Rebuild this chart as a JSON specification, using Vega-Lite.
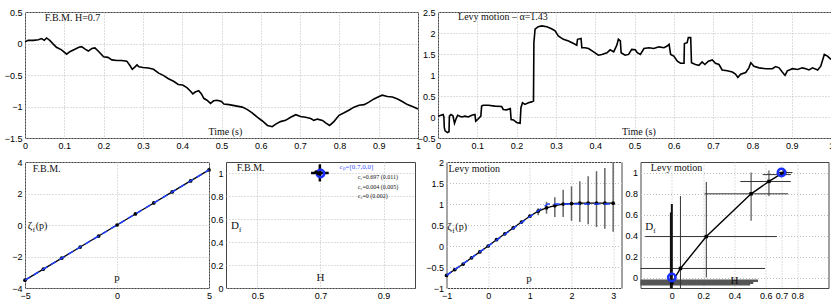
{
"$schema":"https://vega.github.io/schema/vega-lite/v6.json",
"padding":{"left":0,"top":7,"right":2,"bottom":2},
"background":"white",
"spacing":6,
"config":{
 "view":{"stroke":"#444","strokeWidth":1},
 "axis":{"labelFont":"Liberation Sans","labelFontSize":9,"labelColor":"#000","domain":false,"ticks":false,"labelPadding":3,"grid":true,"gridColor":"#bdbdbd","gridDash":[1,2],"labelFlush":false,"labelOverlap":false},
 "text":{"font":"Liberation Serif","fontSize":10,"color":"#111","align":"left","baseline":"middle"},
 "line":{"clip":true},
 "rule":{"clip":true}
},
"vconcat":[
{"hconcat":[
 {"width":393,"height":126,
  "encoding":{
   "x":{"field":"x","type":"quantitative","scale":{"domain":[0,1],"nice":false},"axis":{"values":[0,0.1,0.2,0.3,0.4,0.5,0.6,0.7,0.8,0.9,1],"format":"~g","title":null}},
   "y":{"field":"y","type":"quantitative","scale":{"domain":[-1.5,0.5],"nice":false,"zero":false},"axis":{"values":[-1.5,-1,-0.5,0,0.5],"format":"~g","title":null,"minExtent":21,"maxExtent":21}}},
  "layer":[
   {"data":{"values":[{"x":0,"y":0.026},{"x":0.008,"y":0.05},{"x":0.021,"y":0.05},{"x":0.034,"y":0.06},{"x":0.042,"y":0.078},{"x":0.049,"y":0.05},{"x":0.055,"y":0.088},{"x":0.063,"y":0.05},{"x":0.072,"y":-0.01},{"x":0.08,"y":-0.06},{"x":0.093,"y":-0.1},{"x":0.106,"y":-0.17},{"x":0.114,"y":-0.13},{"x":0.127,"y":-0.09},{"x":0.137,"y":-0.06},{"x":0.144,"y":-0.05},{"x":0.153,"y":-0.09},{"x":0.161,"y":-0.12},{"x":0.17,"y":-0.08},{"x":0.178,"y":-0.07},{"x":0.188,"y":-0.13},{"x":0.2,"y":-0.21},{"x":0.211,"y":-0.22},{"x":0.221,"y":-0.26},{"x":0.234,"y":-0.27},{"x":0.246,"y":-0.27},{"x":0.259,"y":-0.28},{"x":0.267,"y":-0.35},{"x":0.273,"y":-0.41},{"x":0.28,"y":-0.37},{"x":0.285,"y":-0.34},{"x":0.29,"y":-0.37},{"x":0.3,"y":-0.38},{"x":0.314,"y":-0.39},{"x":0.327,"y":-0.41},{"x":0.34,"y":-0.47},{"x":0.353,"y":-0.51},{"x":0.365,"y":-0.56},{"x":0.378,"y":-0.6},{"x":0.39,"y":-0.65},{"x":0.401,"y":-0.66},{"x":0.412,"y":-0.7},{"x":0.42,"y":-0.75},{"x":0.427,"y":-0.8},{"x":0.433,"y":-0.77},{"x":0.442,"y":-0.75},{"x":0.449,"y":-0.8},{"x":0.455,"y":-0.87},{"x":0.463,"y":-0.9},{"x":0.472,"y":-0.95},{"x":0.48,"y":-0.91},{"x":0.489,"y":-0.9},{"x":0.5,"y":-0.92},{"x":0.506,"y":-0.96},{"x":0.519,"y":-0.97},{"x":0.536,"y":-0.99},{"x":0.553,"y":-1.01},{"x":0.566,"y":-1.05},{"x":0.578,"y":-1.1},{"x":0.591,"y":-1.17},{"x":0.604,"y":-1.23},{"x":0.617,"y":-1.3},{"x":0.629,"y":-1.32},{"x":0.638,"y":-1.28},{"x":0.65,"y":-1.24},{"x":0.663,"y":-1.22},{"x":0.676,"y":-1.17},{"x":0.689,"y":-1.13},{"x":0.701,"y":-1.16},{"x":0.714,"y":-1.17},{"x":0.727,"y":-1.19},{"x":0.735,"y":-1.22},{"x":0.744,"y":-1.2},{"x":0.757,"y":-1.22},{"x":0.765,"y":-1.26},{"x":0.775,"y":-1.3},{"x":0.786,"y":-1.24},{"x":0.799,"y":-1.14},{"x":0.812,"y":-1.1},{"x":0.824,"y":-1.06},{"x":0.837,"y":-1.01},{"x":0.85,"y":-0.98},{"x":0.863,"y":-0.97},{"x":0.875,"y":-0.93},{"x":0.888,"y":-0.88},{"x":0.901,"y":-0.84},{"x":0.909,"y":-0.82},{"x":0.922,"y":-0.84},{"x":0.935,"y":-0.85},{"x":0.948,"y":-0.88},{"x":0.96,"y":-0.92},{"x":0.973,"y":-0.97},{"x":0.986,"y":-1.0},{"x":1.0,"y":-1.04}]},
    "mark":{"type":"line","color":"#000","strokeWidth":1.6}},
   {"data":{"values":[{"x":0.05,"y":0.4,"t":"F.B.M. H=0.7"}]},"mark":{"type":"text"},"encoding":{"text":{"field":"t"}}},
   {"data":{"values":[{"x":0.51,"y":-1.4,"t":"Time (s)"}]},"mark":{"type":"text","align":"center"},"encoding":{"text":{"field":"t"}}}
  ]},
 {"width":393,"height":126,
  "encoding":{
   "x":{"field":"x","type":"quantitative","scale":{"domain":[0,1],"nice":false},"axis":{"values":[0,0.1,0.2,0.3,0.4,0.5,0.6,0.7,0.8,0.9,1],"format":"~g","title":null}},
   "y":{"field":"y","type":"quantitative","scale":{"domain":[-0.5,2.5],"nice":false,"zero":false},"axis":{"values":[-0.5,0,0.5,1,1.5,2,2.5],"format":"~g","title":null}}},
  "layer":[
   {"data":{"values":[{"x":0,"y":0.02},{"x":0.013,"y":0.06},{"x":0.015,"y":0.0},{"x":0.016,"y":-0.25},{"x":0.018,"y":-0.33},{"x":0.024,"y":-0.37},{"x":0.028,"y":-0.35},{"x":0.029,"y":0.02},{"x":0.033,"y":0.06},{"x":0.038,"y":0.03},{"x":0.042,"y":-0.15},{"x":0.046,"y":-0.04},{"x":0.05,"y":0.04},{"x":0.06,"y":0.0},{"x":0.069,"y":0.02},{"x":0.077,"y":0.0},{"x":0.086,"y":0.04},{"x":0.094,"y":0.06},{"x":0.096,"y":-0.1},{"x":0.101,"y":-0.06},{"x":0.109,"y":0.02},{"x":0.111,"y":0.26},{"x":0.115,"y":0.28},{"x":0.128,"y":0.28},{"x":0.145,"y":0.26},{"x":0.162,"y":0.25},{"x":0.166,"y":0.18},{"x":0.175,"y":0.17},{"x":0.184,"y":0.2},{"x":0.186,"y":-0.06},{"x":0.192,"y":-0.07},{"x":0.2,"y":-0.13},{"x":0.209,"y":-0.15},{"x":0.211,"y":0.22},{"x":0.215,"y":0.34},{"x":0.221,"y":0.3},{"x":0.23,"y":0.34},{"x":0.238,"y":0.36},{"x":0.243,"y":0.38},{"x":0.244,"y":1.77},{"x":0.247,"y":2.09},{"x":0.255,"y":2.15},{"x":0.264,"y":2.17},{"x":0.277,"y":2.15},{"x":0.289,"y":2.1},{"x":0.298,"y":2.05},{"x":0.306,"y":1.93},{"x":0.319,"y":1.85},{"x":0.332,"y":1.81},{"x":0.345,"y":1.75},{"x":0.353,"y":1.71},{"x":0.355,"y":1.85},{"x":0.364,"y":1.87},{"x":0.366,"y":1.65},{"x":0.374,"y":1.65},{"x":0.383,"y":1.63},{"x":0.396,"y":1.55},{"x":0.408,"y":1.47},{"x":0.417,"y":1.49},{"x":0.43,"y":1.53},{"x":0.438,"y":1.6},{"x":0.447,"y":1.55},{"x":0.455,"y":1.71},{"x":0.459,"y":1.85},{"x":0.464,"y":1.81},{"x":0.466,"y":1.53},{"x":0.476,"y":1.47},{"x":0.485,"y":1.49},{"x":0.493,"y":1.61},{"x":0.502,"y":1.6},{"x":0.507,"y":1.53},{"x":0.515,"y":1.49},{"x":0.524,"y":1.63},{"x":0.537,"y":1.65},{"x":0.549,"y":1.63},{"x":0.562,"y":1.67},{"x":0.575,"y":1.65},{"x":0.583,"y":1.69},{"x":0.588,"y":1.73},{"x":0.592,"y":1.49},{"x":0.6,"y":1.45},{"x":0.609,"y":1.33},{"x":0.617,"y":1.28},{"x":0.626,"y":1.28},{"x":0.627,"y":1.75},{"x":0.634,"y":1.77},{"x":0.637,"y":1.89},{"x":0.643,"y":1.89},{"x":0.645,"y":1.29},{"x":0.655,"y":1.25},{"x":0.664,"y":1.23},{"x":0.672,"y":1.31},{"x":0.679,"y":1.25},{"x":0.688,"y":1.33},{"x":0.698,"y":1.36},{"x":0.706,"y":1.28},{"x":0.715,"y":1.25},{"x":0.723,"y":1.12},{"x":0.736,"y":1.1},{"x":0.749,"y":1.07},{"x":0.757,"y":1.02},{"x":0.763,"y":0.94},{"x":0.77,"y":1.02},{"x":0.783,"y":1.06},{"x":0.791,"y":1.17},{"x":0.796,"y":1.29},{"x":0.804,"y":1.21},{"x":0.817,"y":1.17},{"x":0.834,"y":1.15},{"x":0.851,"y":1.15},{"x":0.859,"y":1.2},{"x":0.868,"y":1.17},{"x":0.876,"y":1.07},{"x":0.883,"y":0.99},{"x":0.889,"y":1.1},{"x":0.902,"y":1.15},{"x":0.915,"y":1.13},{"x":0.927,"y":1.17},{"x":0.936,"y":1.15},{"x":0.944,"y":1.12},{"x":0.953,"y":1.17},{"x":0.966,"y":1.12},{"x":0.974,"y":1.21},{"x":0.983,"y":1.49},{"x":0.991,"y":1.45},{"x":1.0,"y":1.37}]},
    "mark":{"type":"line","color":"#000","strokeWidth":1.6}},
   {"data":{"values":[{"x":0.051,"y":2.38,"t":"Levy motion – α=1.43"}]},"mark":{"type":"text"},"encoding":{"text":{"field":"t"}}},
   {"data":{"values":[{"x":0.511,"y":-0.36,"t":"Time (s)"}]},"mark":{"type":"text","align":"center"},"encoding":{"text":{"field":"t"}}}
  ]}
 ],"spacing":20,"bounds":"flush"},
{"hconcat":[
 {"hconcat":[
  {"width":184,"height":126,
   "encoding":{
    "x":{"field":"x","type":"quantitative","scale":{"domain":[-5,5],"nice":false},"axis":{"values":[-5,0,5],"format":"~g","title":null}},
    "y":{"field":"y","type":"quantitative","scale":{"domain":[-4,4],"nice":false,"zero":false},"axis":{"values":[-4,-2,0,2,4],"format":"~g","title":null,"minExtent":24,"maxExtent":24}}},
   "layer":[
    {"data":{"values":[{"x":-5,"y":-3.5},{"x":-4,"y":-2.8},{"x":-3,"y":-2.1},{"x":-2,"y":-1.4},{"x":-1,"y":-0.7},{"x":0,"y":0},{"x":1,"y":0.7},{"x":2,"y":1.4},{"x":3,"y":2.1},{"x":4,"y":2.8},{"x":5,"y":3.5}]},
     "layer":[
      {"mark":{"type":"line","color":"#000","strokeWidth":1.3}},
      {"mark":{"type":"point","filled":true,"color":"#000","size":14,"opacity":1}}]},
    {"data":{"values":[{"x":-5,"y":-3.5},{"x":5,"y":3.5}]},"mark":{"type":"line","color":"#1f3fff","strokeWidth":1.5,"strokeDash":[6,4]}},
    {"data":{"values":[{"x":-4.58,"y":3.54,"t":"F.B.M."}]},"mark":{"type":"text"},"encoding":{"text":{"field":"t"}}},
    {"data":{"values":[{"x":-4.85,"y":-0.07,"t":"ζ"}]},"mark":{"type":"text","fontSize":11},"encoding":{"text":{"field":"t"}}},
    {"data":{"values":[{"x":-4.85,"y":-0.07,"t":"f"}]},"mark":{"type":"text","fontSize":7,"dx":5,"dy":4},"encoding":{"text":{"field":"t"}}},
    {"data":{"values":[{"x":-4.85,"y":-0.07,"t":"(p)"}]},"mark":{"type":"text","fontSize":10,"dx":8},"encoding":{"text":{"field":"t"}}},
    {"data":{"values":[{"x":0,"y":-3.38,"t":"p"}]},"mark":{"type":"text","align":"center","fontSize":11},"encoding":{"text":{"field":"t"}}}
   ]},
  {"width":189,"height":126,
   "encoding":{
    "x":{"field":"x","type":"quantitative","scale":{"domain":[0.4,1.0],"nice":false,"zero":false},"axis":{"values":[0.5,0.7,0.9],"format":"~g","title":null}},
    "y":{"field":"y","type":"quantitative","scale":{"domain":[0,1.1],"nice":false},"axis":{"values":[0,0.2,0.4,0.6,0.8,1],"format":"~g","title":null}}},
   "layer":[
    {"data":{"values":[{"x":0.67,"x2":0.726,"y":1.004}]},"mark":{"type":"rule","color":"#000","strokeWidth":2.5},"encoding":{"x2":{"field":"x2"}}},
    {"data":{"values":[{"x":0.698,"y":0.93,"y2":1.08}]},"mark":{"type":"rule","color":"#000","strokeWidth":2.5},"encoding":{"y2":{"field":"y2"}}},
    {"data":{"values":[{"x":0.7,"y":1.0}]},"mark":{"type":"point","shape":"circle","filled":false,"color":"#1a2fff","strokeWidth":2.5,"size":55,"opacity":1}},
    {"data":{"values":[{"x":0.686,"y":1.012},{"x":0.693,"y":1.0},{"x":0.7,"y":1.004}]},"mark":{"type":"point","filled":true,"color":"#000","size":14,"opacity":1}},
    {"data":{"values":[{"x":0.434,"y":1.05,"t":"F.B.M."}]},"mark":{"type":"text"},"encoding":{"text":{"field":"t"}}},
    {"data":{"values":[{"x":0.416,"y":0.54,"t":"D"}]},"mark":{"type":"text","fontSize":11},"encoding":{"text":{"field":"t"}}},
    {"data":{"values":[{"x":0.416,"y":0.54,"t":"f"}]},"mark":{"type":"text","fontSize":7,"dx":8,"dy":4},"encoding":{"text":{"field":"t"}}},
    {"data":{"values":[{"x":0.7,"y":0.09,"t":"H"}]},"mark":{"type":"text","align":"center","fontSize":11},"encoding":{"text":{"field":"t"}}},
    {"data":{"values":[{"x":0.76,"y":1.054,"t":"cₚ=[0.7,0,0]"}]},"mark":{"type":"text","fontSize":7,"color":"#3a55ff"},"encoding":{"text":{"field":"t"}}},
    {"data":{"values":[{"x":0.818,"y":0.97,"t":"c₁=0.697 (0.011)"},{"x":0.818,"y":0.88,"t":"c₂=0.004 (0.005)"},{"x":0.818,"y":0.8,"t":"c₃=0 (0.002)"}]},"mark":{"type":"text","fontSize":6},"encoding":{"text":{"field":"t"}}}
   ]}
 ],"spacing":17,"bounds":"flush"},
 {"hconcat":[
  {"width":175,"height":126,
   "encoding":{
    "x":{"field":"x","type":"quantitative","scale":{"domain":[-1,3.2],"nice":false,"zero":false},"axis":{"values":[-1,0,1,2,3],"format":"~g","title":null}},
    "y":{"field":"y","type":"quantitative","scale":{"domain":[-1,2],"nice":false,"zero":false},"axis":{"values":[-1,-0.5,0,0.5,1,1.5,2],"format":"~g","title":null,"minExtent":22,"maxExtent":22}}},
   "layer":[
    {"data":{"values":[{"x":1.2,"y":0.73,"y2":0.9},{"x":1.4,"y":0.77,"y2":1.05},{"x":1.6,"y":0.69,"y2":1.16},{"x":1.8,"y":0.69,"y2":1.34},{"x":2.0,"y":0.6,"y2":1.42},{"x":2.2,"y":0.57,"y2":1.54},{"x":2.4,"y":0.52,"y2":1.66},{"x":2.6,"y":0.45,"y2":1.78},{"x":2.8,"y":0.41,"y2":1.86},{"x":3.0,"y":0.34,"y2":2.0}]},
     "mark":{"type":"rule","color":"#666","strokeWidth":1.5},"encoding":{"y2":{"field":"y2"}}},
    {"data":{"values":[{"x":-1,"y":-0.7},{"x":-0.8,"y":-0.56},{"x":-0.6,"y":-0.43},{"x":-0.4,"y":-0.28},{"x":-0.2,"y":-0.14},{"x":0,"y":0},{"x":0.2,"y":0.15},{"x":0.4,"y":0.29},{"x":0.6,"y":0.43},{"x":0.8,"y":0.57},{"x":1.0,"y":0.71},{"x":1.2,"y":0.83},{"x":1.4,"y":0.91},{"x":1.6,"y":0.96},{"x":1.8,"y":1.0},{"x":2.0,"y":1.01},{"x":2.2,"y":1.02},{"x":2.4,"y":1.02},{"x":2.6,"y":1.02},{"x":2.8,"y":1.02},{"x":3.0,"y":1.02}]},
     "layer":[
      {"mark":{"type":"line","color":"#000","strokeWidth":1.3}},
      {"mark":{"type":"point","filled":true,"color":"#000","size":14,"opacity":1}}]},
    {"data":{"values":[{"x":-1,"y":-0.7},{"x":1.43,"y":1.0},{"x":3,"y":1.0}]},"mark":{"type":"line","color":"#1f3fff","strokeWidth":1.5,"strokeDash":[6,4]}},
    {"data":{"values":[{"x":-0.95,"y":1.84,"t":"Levy motion"}]},"mark":{"type":"text"},"encoding":{"text":{"field":"t"}}},
    {"data":{"values":[{"x":-0.98,"y":0.46,"t":"ζ"}]},"mark":{"type":"text","fontSize":11},"encoding":{"text":{"field":"t"}}},
    {"data":{"values":[{"x":-0.98,"y":0.46,"t":"f"}]},"mark":{"type":"text","fontSize":7,"dx":5,"dy":4},"encoding":{"text":{"field":"t"}}},
    {"data":{"values":[{"x":-0.98,"y":0.46,"t":"(p)"}]},"mark":{"type":"text","fontSize":10,"dx":8},"encoding":{"text":{"field":"t"}}},
    {"data":{"values":[{"x":0.98,"y":-0.79,"t":"p"}]},"mark":{"type":"text","align":"center","fontSize":11},"encoding":{"text":{"field":"t"}}}
   ]},
  {"width":188,"height":126,
   "encoding":{
    "x":{"field":"x","type":"quantitative","scale":{"domain":[-0.2,1.0],"nice":false,"zero":false},"axis":{"values":[0,0.2,0.4,0.6,0.7,0.8],"format":"~g","title":null}},
    "y":{"field":"y","type":"quantitative","scale":{"domain":[-0.1,1.1],"nice":false,"zero":false},"axis":{"values":[0,0.2,0.4,0.6,0.8,1],"format":"~g","title":null}}},
   "layer":[
    {"data":{"values":[{"x":-0.2,"x2":0.55,"y":-0.03},{"x":-0.2,"x2":0.52,"y":-0.05},{"x":-0.2,"x2":0.5,"y":-0.065}]},"mark":{"type":"rule","color":"#555","strokeWidth":2.5},"encoding":{"x2":{"field":"x2"}}},
    {"data":{"values":[{"x":-0.2,"x2":0.595,"y":0.086},{"x":-0.17,"x2":0.67,"y":0.39},{"x":0.21,"x2":0.742,"y":0.797},{"x":0.437,"x2":0.759,"y":0.914},{"x":0.58,"x2":0.76,"y":0.98},{"x":0.68,"x2":0.77,"y":1.0}]},"mark":{"type":"rule","color":"#333","strokeWidth":1},"encoding":{"x2":{"field":"x2"}}},
    {"data":{"values":[{"x":0.055,"y":-0.1,"y2":0.775},{"x":0.22,"y":0.0,"y2":0.91},{"x":0.506,"y":0.54,"y2":1.0},{"x":0.62,"y":0.775,"y2":1.02},{"x":0.71,"y":0.97,"y2":1.03}]},"mark":{"type":"rule","color":"#333","strokeWidth":1},"encoding":{"y2":{"field":"y2"}}},
    {"data":{"values":[{"x":-0.006,"y":-0.1,"y2":0.62},{"x":0.0,"y":-0.1,"y2":0.7}]},"mark":{"type":"rule","color":"#111","strokeWidth":2},"encoding":{"y2":{"field":"y2"}}},
    {"data":{"values":[{"x":0,"y":-0.05},{"x":0.055,"y":0.086},{"x":0.22,"y":0.39},{"x":0.506,"y":0.797},{"x":0.62,"y":0.915},{"x":0.7,"y":0.99},{"x":0.72,"y":1.0}]},
     "layer":[
      {"mark":{"type":"line","color":"#000","strokeWidth":1.4}},
      {"mark":{"type":"point","shape":"square","filled":true,"color":"#000","size":12,"opacity":1}}]},
    {"data":{"values":[{"x":0,"y":0},{"x":0.7,"y":1.0}]},"mark":{"type":"point","shape":"circle","filled":false,"color":"#1a2fff","strokeWidth":2.5,"size":55,"opacity":1}},
    {"data":{"values":[{"x":-0.134,"y":1.04,"t":"Levy motion"}]},"mark":{"type":"text"},"encoding":{"text":{"field":"t"}}},
    {"data":{"values":[{"x":-0.17,"y":0.48,"t":"D"}]},"mark":{"type":"text","fontSize":11},"encoding":{"text":{"field":"t"}}},
    {"data":{"values":[{"x":-0.17,"y":0.48,"t":"f"}]},"mark":{"type":"text","fontSize":7,"dx":8,"dy":4},"encoding":{"text":{"field":"t"}}},
    {"data":{"values":[{"x":0.4,"y":-0.03,"t":"H"}]},"mark":{"type":"text","align":"center","fontSize":11},"encoding":{"text":{"field":"t"}}}
   ]}
 ],"spacing":19,"bounds":"flush"}
],"spacing":7.5}
]
}
